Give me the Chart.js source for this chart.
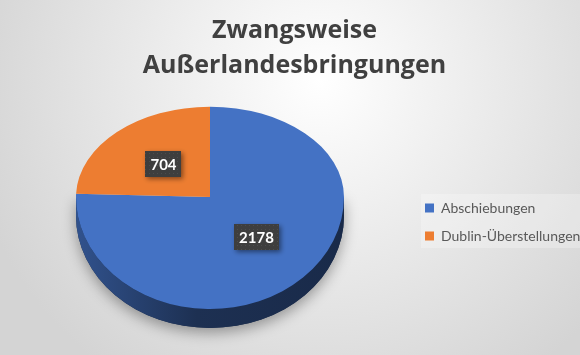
<!DOCTYPE html>
<html>
<head>
<meta charset="utf-8">
<script src="https://cdn.jsdelivr.net/npm/chart.js@4.4.1/dist/chart.umd.min.js"></script>
<style>
  html, body { margin: 0; padding: 0; background: #fff; }
  #wrap { width: 580px; height: 355px; }
</style>
</head>
<body>
<div id="wrap"><canvas id="chart" width="580" height="355"></canvas></div>
<script>
const categories = ['Abschiebungen', 'Dublin-Überstellungen'];
const counts = [2178, 704];
const sliceColors = ['#4472c4', '#ed7d31'];
const titleLines = ['Zwangsweise', 'Außerlandesbringungen'];

// how the flat pie gets tilted
const TOP_SQUASH = 0.674;
const FRONT_SQUASH = 0.836;
const DEPTH = 19;

Chart.defaults.font.family = 'Lato';

function shade(hex, f) {
    const n = parseInt(hex.slice(1), 16);
    const r = Math.round(((n >> 16) & 255) * f);
    const g = Math.round(((n >> 8) & 255) * f);
    const b = Math.round((n & 255) * f);
    return 'rgb(' + r + ', ' + g + ', ' + b + ')';
}

function squashY(y, cy) {
    return cy + (y - cy) * (y < cy ? TOP_SQUASH : FRONT_SQUASH);
}

// grey radial backdrop + panel behind the legend
const backdrop = {
    id: 'backdrop',
    beforeDraw(chart) {
        const {ctx, width, height} = chart;
        const g = ctx.createRadialGradient(320, 80, 0, 320, 80, 360);
        g.addColorStop(0, '#ffffff');
        g.addColorStop(1, '#d4d4d4');
        ctx.save();
        ctx.fillStyle = g;
        ctx.fillRect(0, 0, width, height);
        const boxes = chart.legend && chart.legend.legendHitBoxes;
        if (boxes && boxes.length) {
            const first = boxes[0];
            const last = boxes[boxes.length - 1];
            ctx.fillStyle = 'rgba(255, 255, 255, 0.25)';
            ctx.fillRect(first.left - 4, first.top - 7, width - first.left + 4, last.top + last.height + 5 - (first.top - 7));
        }
        ctx.restore();
    }
};

const tiltedPie = {
    id: 'tiltedPie',
    beforeDatasetsDraw(chart) {
        const ctx = chart.ctx;
        const arcs = chart.getDatasetMeta(0).data;
        const cx = arcs[0].x;
        const cy = arcs[0].y;
        const r = arcs[0].outerRadius;
        const ry = r * FRONT_SQUASH;

        // shadow under the disc
        ctx.save();
        ctx.shadowColor = 'rgba(0, 0, 0, 0.35)';
        ctx.shadowBlur = 14;
        ctx.shadowOffsetY = 5;
        ctx.fillStyle = '#1a2b4a';
        ctx.beginPath();
        ctx.moveTo(cx - r, cy);
        ctx.lineTo(cx + r, cy);
        ctx.ellipse(cx, cy + DEPTH, r, ry, 0, 0, Math.PI);
        ctx.closePath();
        ctx.fill();
        ctx.restore();

        // front wall of each slice
        ctx.save();
        arcs.forEach((arc, i) => {
            const color = sliceColors[i];
            [-2, 0, 2].forEach(k => {
                const a0 = Math.max(arc.startAngle, k * Math.PI);
                const a1 = Math.min(arc.endAngle, k * Math.PI + Math.PI);
                if (a1 <= a0) return;
                const grad = ctx.createLinearGradient(cx - r, 0, cx + r, 0);
                grad.addColorStop(0, shade(color, 0.72));
                grad.addColorStop(0.45, shade(color, 0.42));
                grad.addColorStop(1, shade(color, 0.37));
                ctx.fillStyle = grad;
                ctx.beginPath();
                ctx.ellipse(cx, cy, r, ry, 0, a0, a1);
                ctx.ellipse(cx, cy + DEPTH, r, ry, 0, a1, a0, true);
                ctx.closePath();
                ctx.fill();
            });
        });
        ctx.restore();

        // top face: back half flatter than front half
        [[0, cy + 0.5, TOP_SQUASH], [cy, chart.height, FRONT_SQUASH]].forEach(([y0, y1, k]) => {
            ctx.save();
            ctx.beginPath();
            ctx.rect(0, y0, chart.width, y1 - y0);
            ctx.clip();
            ctx.translate(0, cy);
            ctx.scale(1, k);
            ctx.translate(0, -cy);
            arcs.forEach(a => a.draw(ctx));
            ctx.restore();
        });
        return false;
    },
    afterDraw(chart) {
        const ctx = chart.ctx;
        const arcs = chart.getDatasetMeta(0).data;

        const dots = document.createElement('canvas');
        dots.width = 4;
        dots.height = 4;
        const dctx = dots.getContext('2d');
        dctx.fillStyle = '#3e3e3e';
        dctx.fillRect(0, 0, 4, 4);
        dctx.fillStyle = '#4c4c4c';
        dctx.fillRect(1, 1, 1, 1);
        const pattern = ctx.createPattern(dots, 'repeat');

        ctx.save();
        ctx.font = 'bold 15px Lato';
        ctx.textAlign = 'center';
        ctx.textBaseline = 'middle';
        arcs.forEach((arc, i) => {
            const p = arc.getCenterPoint();
            const x = p.x;
            const y = squashY(p.y, arc.y);
            const text = String(counts[i]);
            const w = Math.round(ctx.measureText(text).width + 10);
            const h = 26;
            ctx.shadowColor = 'rgba(0, 0, 0, 0.45)';
            ctx.shadowBlur = 5;
            ctx.shadowOffsetX = 2;
            ctx.shadowOffsetY = 2;
            ctx.fillStyle = pattern;
            ctx.fillRect(Math.round(x - w / 2), Math.round(y - h / 2), w, h);
            ctx.shadowColor = 'transparent';
            ctx.fillStyle = '#ffffff';
            ctx.fillText(text, x, y + 1);
        });
        ctx.restore();
    }
};

new Chart(document.getElementById('chart'), {
    type: 'pie',
    data: {
        labels: categories,
        datasets: [{
            data: counts,
            backgroundColor: sliceColors,
            borderWidth: 0,
            radius: 134
        }]
    },
    options: {
        responsive: false,
        animation: false,
        events: [],
        layout: {
            padding: {left: 9, right: 0, top: 0, bottom: 98}
        },
        plugins: {
            title: {
                display: true,
                text: titleLines,
                color: '#404040',
                font: {family: '"Open Sans"', size: 25, weight: 'bold', lineHeight: 1.4},
                padding: {top: 13, bottom: 54}
            },
            legend: {
                position: 'right',
                align: 'end',
                fullSize: false,
                maxWidth: 169,
                labels: {
                    boxWidth: 9,
                    boxHeight: 9,
                    padding: 14,
                    color: '#595959',
                    font: {family: 'Lato', size: 14}
                }
            },
            tooltip: {enabled: false}
        }
    },
    plugins: [backdrop, tiltedPie]
});
</script>
</body>
</html>
